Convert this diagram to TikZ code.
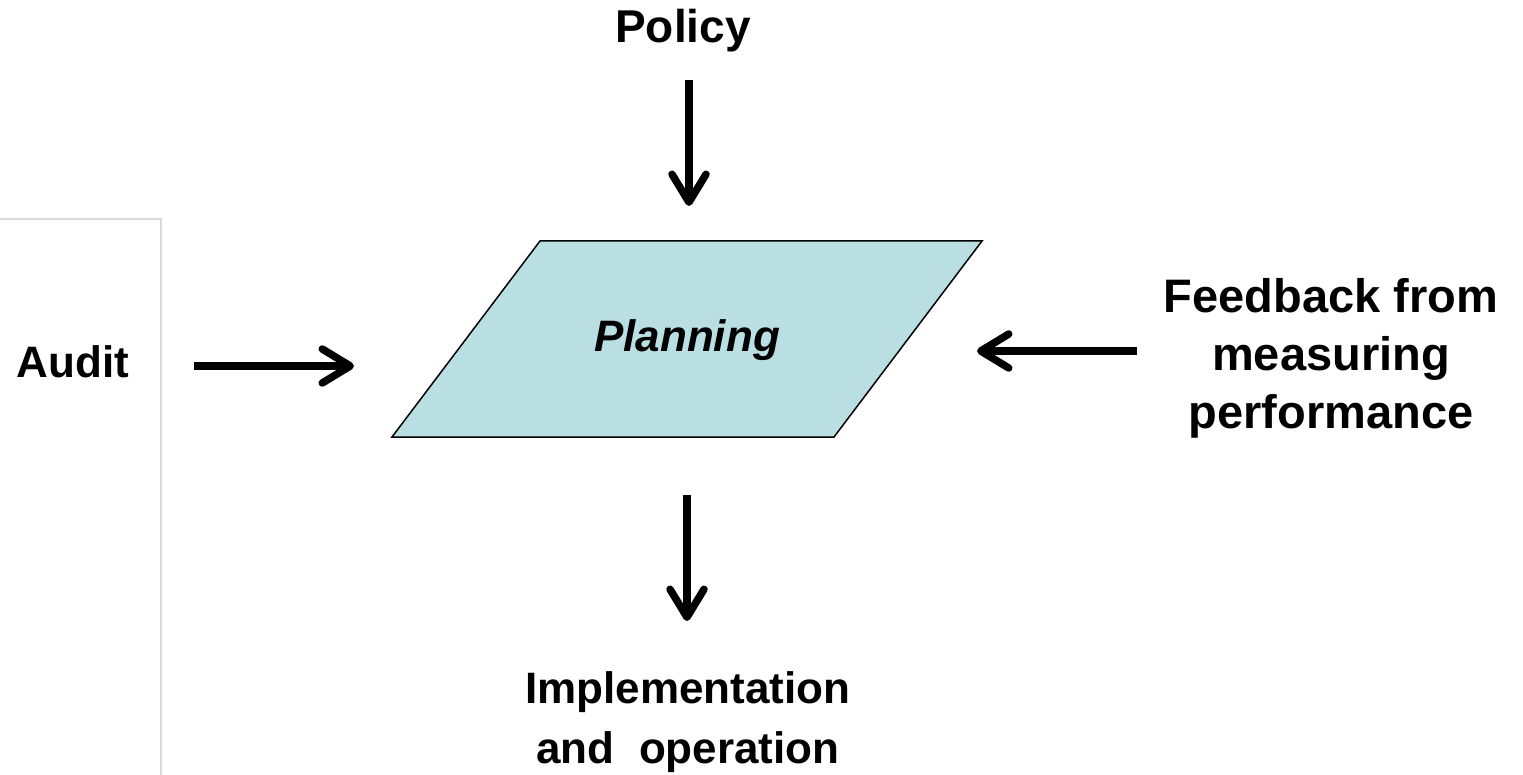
\documentclass[tikz,border=0pt]{standalone}
\usepackage{fontspec}
\setmainfont{Liberation Sans}
\usetikzlibrary{arrows.meta}
\definecolor{planfill}{RGB}{185,223,227}
\definecolor{framegrey}{RGB}{218,218,218}
\begin{document}
\begin{tikzpicture}[x=1pt,y=-1pt,
  lbl/.style={font=\fontsize{47}{58}\selectfont\bfseries, align=center, inner sep=0pt},
  bigarrow/.style={line width=7.5pt, -{Straight Barb[length=28pt,width=34pt,line cap=round,line join=round]}},
  frameline/.style={draw=framegrey, line width=2.5pt}]
\useasboundingbox (0,0) rectangle (1523,775);
% grey frame at the left
\coordinate (f1) at (0,219);
\coordinate (f2) at (161,219);
\coordinate (f3) at (161,778);
\draw[frameline] (f1) -- (f2) -- (f3);
% parallelogram
\coordinate (p1) at (392,437);
\coordinate (p2) at (540,241);
\coordinate (p3) at (982,241);
\coordinate (p4) at (834,437);
\draw[fill=planfill, line width=1.5pt, line join=miter] (p1) -- (p2) -- (p3) -- (p4) -- cycle;
\node[lbl, font=\fontsize{44}{58}\selectfont\bfseries\itshape] (plan) at (687,340) {Planning};
% labels
\node[lbl, font=\fontsize{46}{58}\selectfont\bfseries] (policy) at (683,31) {Policy};
\node[lbl, font=\fontsize{44}{58}\selectfont\bfseries] (audit) at (73,362) {Audit};
\node[lbl] (feed) at (1331,358) {Feedback from\\measuring\\performance};
\node[lbl, font=\fontsize{44}{60}\selectfont\bfseries] (impl) at (688,722) {Implementation\\and\ \ operation};
% arrow end points
\coordinate (a1s) at (689,80);
\coordinate (a1e) at (689,206);
\coordinate (a2s) at (194,366);
\coordinate (a2e) at (354,366);
\coordinate (a3s) at (1137,351);
\coordinate (a3e) at (977,351);
\coordinate (a4s) at (687,495);
\coordinate (a4e) at (687,621);
\draw[bigarrow] (a1s) -- (a1e);
\draw[bigarrow] (a2s) -- (a2e);
\draw[bigarrow] (a3s) -- (a3e);
\draw[bigarrow] (a4s) -- (a4e);
\end{tikzpicture}
\end{document}
